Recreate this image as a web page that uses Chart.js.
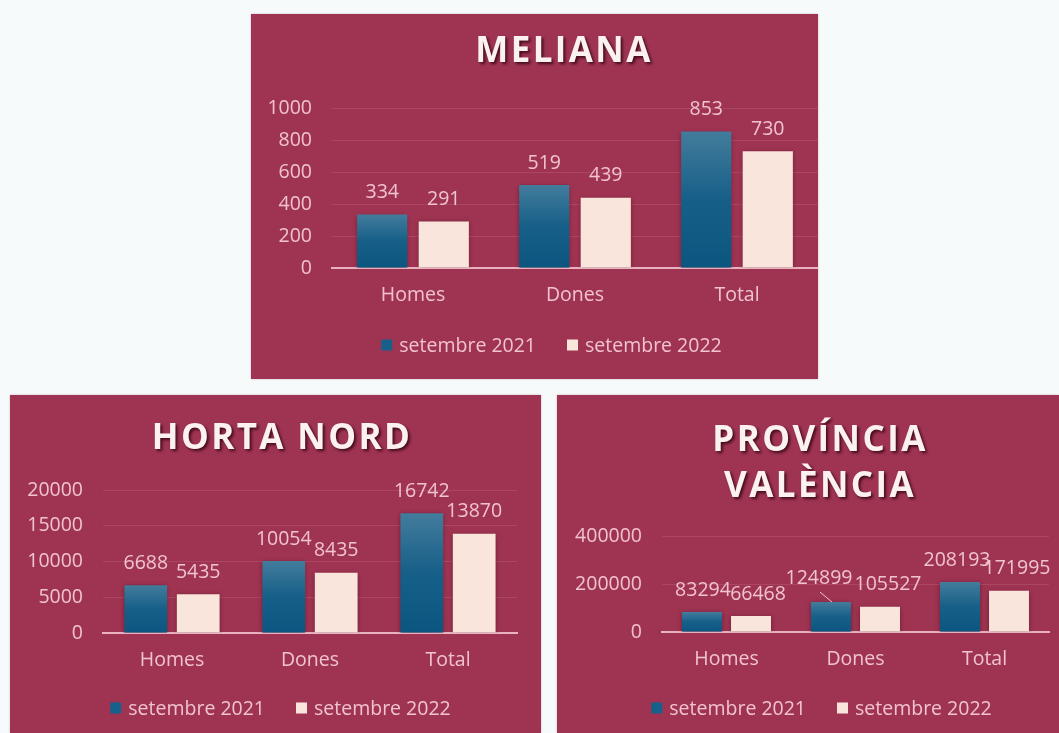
<!DOCTYPE html>
<html><head><meta charset="utf-8">
<script src="https://cdn.jsdelivr.net/npm/chart.js@4.4.1/dist/chart.umd.min.js"></script>
<style>
html,body{margin:0;padding:0;background:#f7fafb;width:1059px;height:733px;overflow:hidden;position:relative;font-family:"Open Sans",sans-serif;}
.panel{position:absolute;background:#9f3452;box-shadow:0 0 2px rgba(120,60,80,0.35);overflow:hidden}
.panel canvas{position:absolute;left:0;top:0}
.title{position:absolute;font-family:"Open Sans",sans-serif;font-weight:700;font-size:35px;line-height:46px;letter-spacing:2.4px;color:#fcf1f1;text-shadow:2px 2px 3px rgba(45,0,15,0.8);text-align:center;white-space:nowrap;width:400px}
</style></head>
<body>
<div class="panel" style="left:251px;top:14px;width:567px;height:365px"><canvas id="c1" width="567" height="365"></canvas><div class="title" style="left:113px;top:12px">MELIANA</div></div>
<div class="panel" style="left:10px;top:395px;width:531px;height:338px"><canvas id="c2" width="531" height="338"></canvas><div class="title" style="left:72px;top:18px">HORTA NORD</div></div>
<div class="panel" style="left:557px;top:395px;width:502px;height:338px"><canvas id="c3" width="502" height="338"></canvas><div class="title" style="left:63px;top:20px">PROVÍNCIA<br>VALÈNCIA</div></div>
<script>
// ---- data ----
const categories = ['Homes', 'Dones', 'Total'];
const seriesLabels = ['setembre 2021', 'setembre 2022'];
const meliana2021 = [334, 519, 853];
const meliana2022 = [291, 439, 730];
const hortaNord2021 = [6688, 10054, 16742];
const hortaNord2022 = [5435, 8435, 13870];
const provincia2021 = [83294, 124899, 208193];
const provincia2022 = [66468, 105527, 171995];
const melianaTicks = [0, 200, 400, 600, 800, 1000];
const hortaNordTicks = [0, 5000, 10000, 15000, 20000];
const provinciaTicks = [0, 200000, 400000];

// ---- styles ----
const FONT_FAMILY = '"Open Sans", sans-serif';
const FONT_SIZE = 19.5;
const TEXT_COL = '#f1c3ce';
const BLUE = '#17608a';
const CREAM = '#f9e5db';
const GRID_COL = 'rgba(255,205,215,0.12)';
const AXIS_COL = '#e9b2c0';

Chart.defaults.font.family = FONT_FAMILY;
Chart.defaults.font.size = FONT_SIZE;
Chart.defaults.color = TEXT_COL;

const barShadow = {
  id: 'barShadow',
  beforeDatasetsDraw(chart) {
    const c = chart.ctx; c.save();
    c.shadowColor = 'rgba(45,0,15,0.45)'; c.shadowBlur = 5; c.shadowOffsetX = 0; c.shadowOffsetY = 1;
  },
  afterDatasetsDraw(chart) { chart.ctx.restore(); }
};

const valueLabels = {
  id: 'valueLabels',
  afterDatasetsDraw(chart, args, opts) {
    const ctx = chart.ctx; ctx.save();
    ctx.font = FONT_SIZE + 'px ' + FONT_FAMILY;
    ctx.fillStyle = TEXT_COL; ctx.textAlign = 'center'; ctx.textBaseline = 'middle';
    chart.data.datasets.forEach((ds, di) => {
      const meta = chart.getDatasetMeta(di);
      meta.data.forEach((bar, i) => {
        const off = (opts.offsets && opts.offsets[di] && opts.offsets[di][i]) || [0, 0];
        ctx.fillText(String(ds.data[i]), bar.x + off[0], bar.y - 22 + off[1]);
      });
    });
    if (opts.leader) {
      const bar = chart.getDatasetMeta(opts.leader[0]).data[opts.leader[1]];
      ctx.strokeStyle = TEXT_COL; ctx.lineWidth = 1;
      ctx.beginPath(); ctx.moveTo(bar.x - 11, bar.y - 10); ctx.lineTo(bar.x + 1, bar.y); ctx.stroke();
    }
    ctx.restore();
  }
};

const legendDraw = {
  id: 'legendDraw',
  afterDraw(chart, args, opts) {
    const ctx = chart.ctx; ctx.save();
    ctx.font = FONT_SIZE + 'px ' + FONT_FAMILY;
    ctx.textBaseline = 'middle'; ctx.textAlign = 'left';
    const box = 11, gapT = 7, gapI = 31;
    const items = chart.data.datasets;
    let total = 0;
    items.forEach((ds, i) => { total += box + gapT + ctx.measureText(ds.label).width + (i ? gapI : 0); });
    let x = opts.cx - total / 2; const y = opts.cy;
    items.forEach((ds, i) => {
      if (i) x += gapI;
      ctx.fillStyle = ds.legendColor; ctx.fillRect(x, y - box / 2, box, box);
      x += box + gapT;
      ctx.fillStyle = TEXT_COL; ctx.fillText(ds.label, x, y + 1);
      x += ctx.measureText(ds.label).width;
    });
    ctx.restore();
  }
};

function blueGradient(c) {
  const chart = c.chart;
  if (!chart.chartArea || c.type !== 'data') return BLUE;
  const ys = chart.scales.y;
  const y0 = ys.getPixelForValue(0), y1 = ys.getPixelForValue(c.raw);
  const g = chart.ctx.createLinearGradient(0, y1, 0, y0);
  g.addColorStop(0, '#437c9c');
  g.addColorStop(0.5, '#165f88');
  g.addColorStop(1, '#0b5680');
  return g;
}

function makeChart(id, W, H, area, d21, d22, yTicks, extra) {
  return new Chart(document.getElementById(id), {
    type: 'bar',
    data: {
      labels: categories,
      datasets: [
        { label: seriesLabels[0], data: d21, backgroundColor: blueGradient, legendColor: BLUE,
          categoryPercentage: 0.76, barPercentage: 0.815, borderWidth: 0 },
        { label: seriesLabels[1], data: d22, backgroundColor: CREAM, legendColor: CREAM,
          categoryPercentage: 0.76, barPercentage: 0.815, borderWidth: 0 }
      ]
    },
    options: {
      responsive: false, animation: false, devicePixelRatio: 1,
      layout: { padding: { top: area.top, left: 0, right: W - area.right, bottom: 0 } },
      plugins: {
        legend: { display: false }, title: { display: false }, tooltip: { enabled: false },
        valueLabels: extra.labels || {},
        legendDraw: { cx: extra.legendCx, cy: extra.legendCy }
      },
      scales: {
        x: {
          grid: { display: false, drawTicks: false },
          border: { display: true, color: AXIS_COL, width: 2 },
          ticks: { padding: 16, color: TEXT_COL, font: { size: FONT_SIZE } },
          afterFit: s => { s.height = H - area.bottom; }
        },
        y: {
          min: yTicks[0], max: yTicks[yTicks.length - 1],
          afterBuildTicks: s => { s.ticks = yTicks.map(v => ({ value: v })); },
          grid: { color: GRID_COL, lineWidth: 1, drawTicks: false },
          border: { display: false },
          ticks: { padding: 20, color: TEXT_COL, font: { size: FONT_SIZE }, callback: v => String(v) },
          afterFit: s => { s.width = area.left; }
        }
      }
    },
    plugins: [barShadow, valueLabels, legendDraw]
  });
}

makeChart('c1', 567, 365, { left: 81, top: 94, right: 567, bottom: 254 },
  meliana2021, meliana2022, melianaTicks, { legendCx: 300.5, legendCy: 331 });
makeChart('c2', 531, 338, { left: 93, top: 95, right: 507, bottom: 238 },
  hortaNord2021, hortaNord2022, hortaNordTicks, { legendCx: 270.5, legendCy: 313 });
makeChart('c3', 502, 338, { left: 105, top: 141, right: 492, bottom: 237 },
  provincia2021, provincia2022, provinciaTicks, {
    legendCx: 264.5, legendCy: 313,
    labels: { offsets: [[[1, 0], [-12, -2], [-3, 0]], [[7, 0], [8, 0], [8, 0]]], leader: [0, 1] }
  });
</script>
</body></html>
